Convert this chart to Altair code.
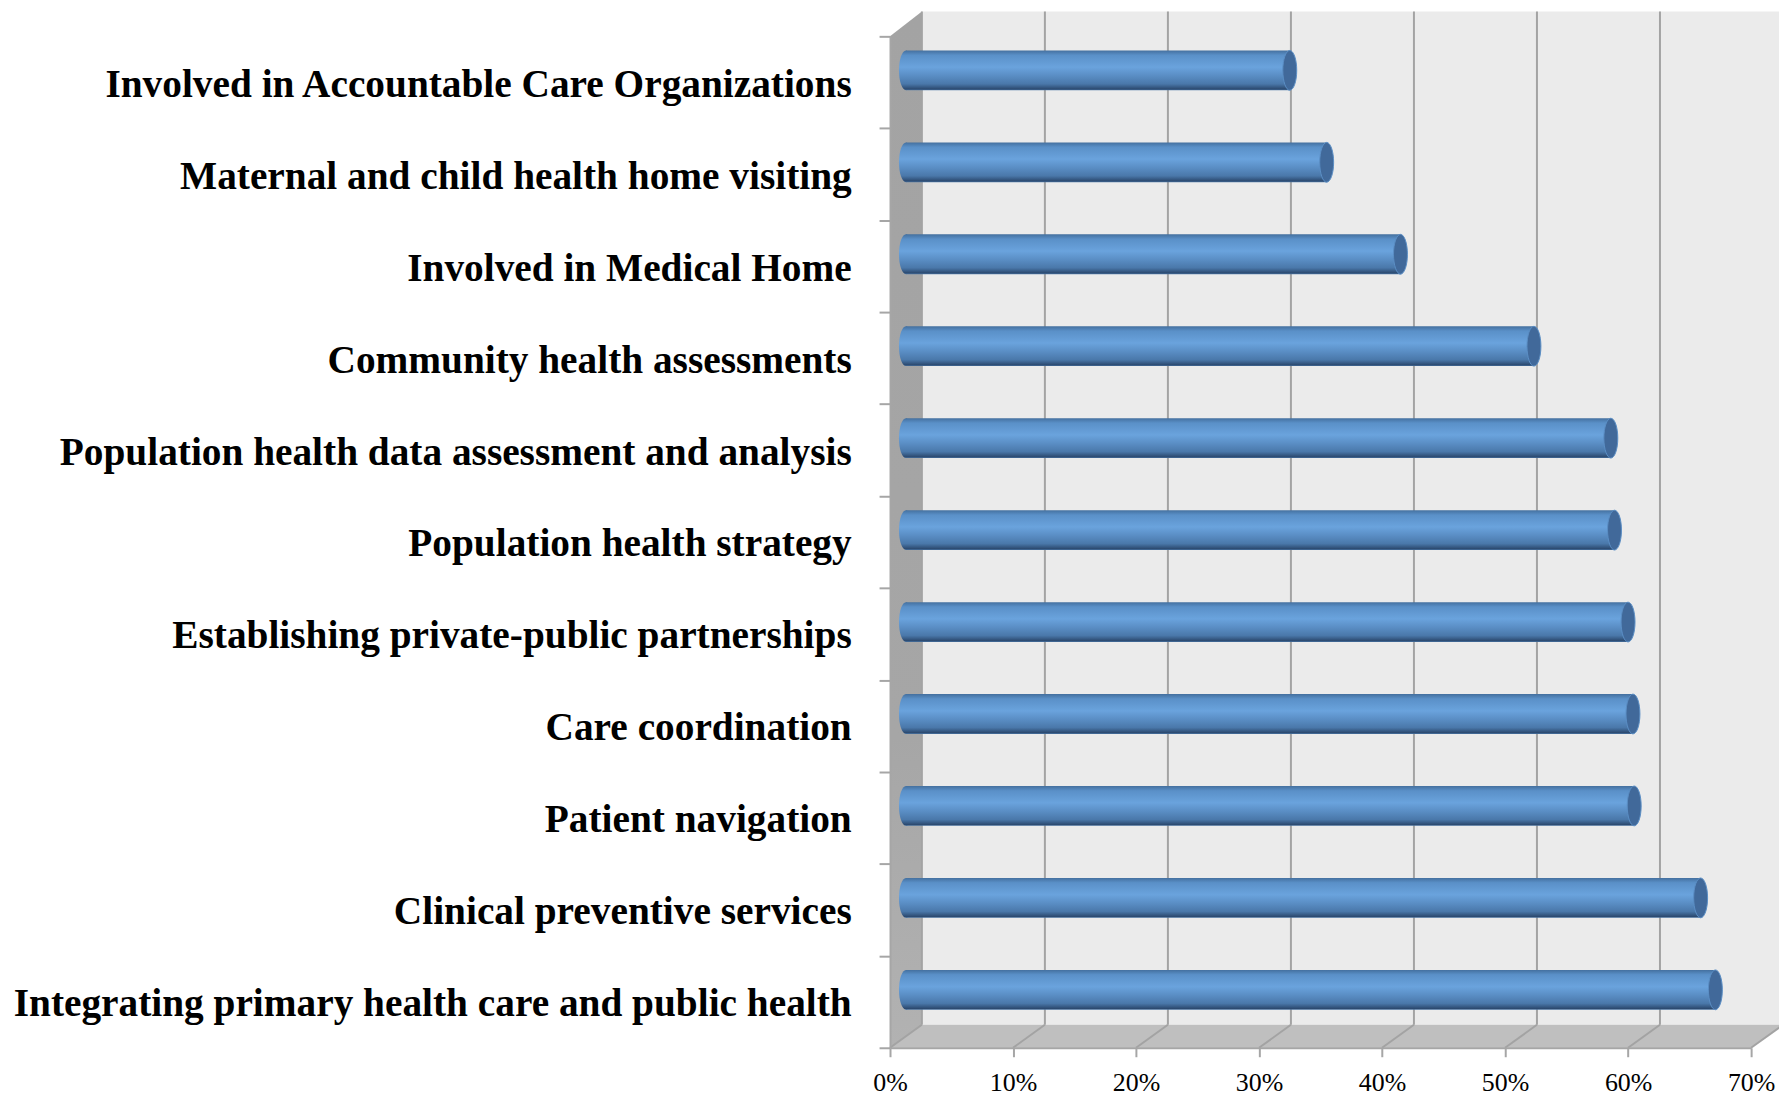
import altair as alt
import pandas as pd

categories = [
    "Involved in Accountable Care Organizations",
    "Maternal and child health home visiting",
    "Involved in Medical Home",
    "Community health assessments",
    "Population health data assessment and analysis",
    "Population health strategy ",
    "Establishing private-public partnerships",
    "Care coordination",
    "Patient navigation",
    "Clinical preventive services",
    "Integrating primary health care and public health",
]
values = [0.312, 0.342, 0.402, 0.5105, 0.573, 0.576, 0.587, 0.591, 0.592, 0.646, 0.658]
x_ticks = [0.0, 0.1, 0.2, 0.3, 0.4, 0.5, 0.6, 0.7]
grid_ticks = [0.0, 0.1, 0.2, 0.3, 0.4, 0.5, 0.6, 0.7]

# perspective depth of the 3-D box, in axis units
DX = 0.0259
DY_BOTTOM = 0.25
DY_TOP = 0.27
N = len(categories)
X_MAX = 0.7

bars = pd.DataFrame({"cat": categories, "val": values, "zero": [0.0] * N})

x_scale = alt.Scale(domain=[0, X_MAX], range=[0, 865], nice=False, zero=False)
y_cat_scale = alt.Scale(domain=categories, paddingInner=0, paddingOuter=0)
y_num_scale = alt.Scale(domain=[0, N], range=[1016, 0], nice=False, zero=False)

x_axis = alt.Axis(
    values=x_ticks, format=".0%", title=None, grid=False, zindex=1,
    domainColor="#a6a6a6", domainWidth=2, tickColor="#a6a6a6", tickWidth=2, tickSize=9,
    labelFont="Liberation Serif", labelFontSize=26, labelColor="#000000",
    labelPadding=13, labelFlush=False, labelOverlap=False,
)
y_axis = alt.Axis(
    title=None, orient="left", grid=False, zindex=1, tickBand="extent",
    domainColor="#a6a6a6", domainWidth=2, tickColor="#a6a6a6", tickWidth=2, tickSize=11,
    labelFont="Liberation Serif", labelFontSize=39.5, labelFontWeight="bold",
    labelColor="#000000", labelPadding=28, labelLimit=1000, labelOffset=2,
)

X = lambda f, **k: alt.X(f, type="quantitative", scale=x_scale, title=None, **k)
Yn = lambda f: alt.Y(f, type="quantitative", scale=y_num_scale, axis=None, title=None)

back = alt.Chart(pd.DataFrame({
    "x": [DX], "x2": [X_MAX + DX], "y": [DY_BOTTOM], "y2": [N + DY_TOP]
})).mark_rect(color="#ebebeb", clip=False).encode(
    x=X("x", axis=x_axis), x2="x2", y=Yn("y"), y2="y2")

wall = alt.Chart(pd.DataFrame({
    "x": [0, DX], "y": [N, N + DY_TOP], "y2": [0, DY_BOTTOM]
})).mark_area(
    orient="vertical", clip=False,
    color=alt.Gradient(gradient="linear", x1=0, x2=0, y1=0, y2=1,
                       stops=[alt.GradientStop(color="#a3a3a3", offset=0),
                              alt.GradientStop(color="#a6a6a6", offset=0.7),
                              alt.GradientStop(color="#b2b2b2", offset=1)]),
).encode(x=X("x"), y=Yn("y"), y2="y2")

floor = alt.Chart(pd.DataFrame({
    "y": [0, DY_BOTTOM], "x": [0, DX], "x2": [X_MAX, X_MAX + DX]
})).mark_area(orient="horizontal", color="#bfbfbf", clip=False).encode(
    y=Yn("y"), x=X("x"), x2="x2")

grid_back = alt.Chart(pd.DataFrame({
    "x": [t + DX for t in grid_ticks],
    "y": [DY_BOTTOM] * len(grid_ticks),
    "y2": [N + DY_TOP] * len(grid_ticks),
})).mark_rule(color="#a3a3a3", strokeWidth=2, clip=False).encode(
    x=X("x"), y=Yn("y"), y2="y2")

grid_floor = alt.Chart(pd.DataFrame({
    "t": [t for t in grid_ticks for _ in range(2)],
    "x": [v for t in grid_ticks for v in (t, t + DX)],
    "y": [v for _ in grid_ticks for v in (0, DY_BOTTOM)],
})).mark_line(color="#a3a3a3", strokeWidth=2, clip=False).encode(
    x=X("x"), y=Yn("y"), detail="t:N")

bar_grad = alt.Gradient(
    gradient="linear", x1=0, x2=0, y1=0, y2=1,
    stops=[
        alt.GradientStop(color="#44709f", offset=0),
        alt.GradientStop(color="#5a90c8", offset=0.12),
        alt.GradientStop(color="#6aa3dd", offset=0.42),
        alt.GradientStop(color="#5b8fc6", offset=0.62),
        alt.GradientStop(color="#4a78aa", offset=0.84),
        alt.GradientStop(color="#2c4a70", offset=0.97),
        alt.GradientStop(color="#4a76a6", offset=1),
    ],
)
SHAPE = "M0,-1A0.35,1,0,1,1,0,1A0.35,1,0,1,1,0,-1Z"
Yc = alt.Y("cat:N", scale=y_cat_scale, sort=None, title=None, axis=y_axis)
Yc2 = alt.Y("cat:N", scale=y_cat_scale, sort=None, title=None, axis=None)

bar_rect = alt.Chart(bars).mark_bar(
    size=40, color=bar_grad, xOffset=16, x2Offset=16, yOffset=-12, clip=False
).encode(x=X("val"), x2="zero", y=Yc)

cap_start = alt.Chart(bars).mark_point(
    shape=SHAPE, size=1600, filled=True, opacity=1, fill=bar_grad, strokeWidth=0,
    xOffset=16, yOffset=-12, clip=False,
).encode(x=X("zero"), y=Yc2)

cap_end = alt.Chart(bars).mark_point(
    shape=SHAPE, size=1600, filled=True, opacity=1, fill="#41699a",
    stroke="#5b8ec5", strokeWidth=1, xOffset=16, yOffset=-12, clip=False,
).encode(x=X("val"), y=Yc2)

chart = alt.layer(
    back, wall, floor, grid_back, grid_floor, cap_start, bar_rect, cap_end
).resolve_scale(y="independent").properties(
    width=865, height=1016,
    padding={"left": 886, "top": 26, "right": 28, "bottom": 50},
    autosize=alt.AutoSizeParams(type="none"),
    background="#ffffff",
).configure_view(stroke=None)

chart.save("out.html", embed_options={"renderer": "svg", "actions": False})
